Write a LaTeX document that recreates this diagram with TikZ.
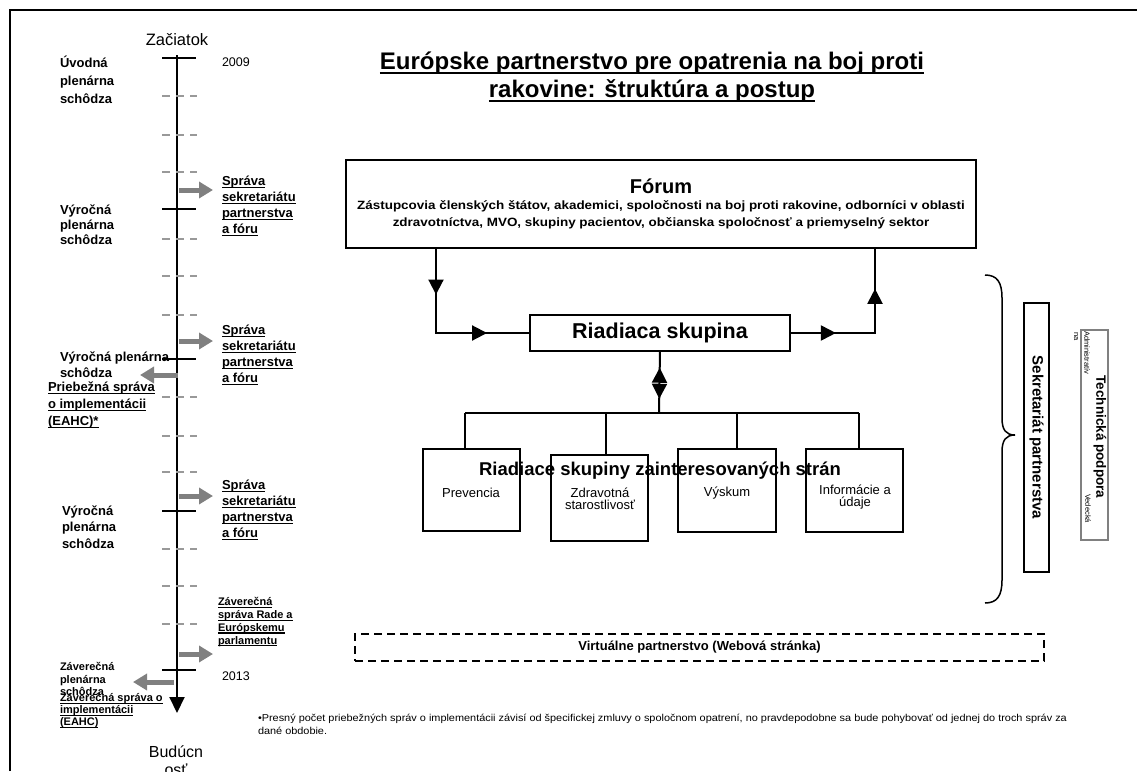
\documentclass[tikz,border=0pt]{standalone}
\usepackage{graphicx}
\usepackage{fontspec}
\setmainfont{Liberation Sans}
\usetikzlibrary{arrows.meta,decorations.markings,calc}
\newcommand\fsz[2]{\fontsize{#1}{#2}\selectfont}
\newcommand\myul[1]{\setbox0\hbox{#1}\rlap{\rule[-0.2em]{\wd0}{0.1em}}\box0}
\newcommand\hstretch[2]{\scalebox{#1}[1]{#2}}
\tikzset{btri/.tip={Triangle[length=15pt,width=15pt]}}
\begin{document}
\begin{tikzpicture}[x=1pt,y=-1pt,
  every node/.style={inner sep=0pt, outer sep=0pt},
  conn/.style={line width=2pt},
  boxst/.style={draw, line width=2pt},
  blab/.style={font=\fsz{13}{16}\bfseries, align=left, anchor=west},
  slab/.style={font=\fsz{11}{12.7}\bfseries, align=left, anchor=west},
  glab/.style={font=\fsz{13}{12.5}, align=center},
  yr/.style={font=\fsz{12.5}{15}, anchor=west},
  tickst/.style={line width=2pt},
  dtick/.style={line width=1.6pt, draw=gray!80, dash pattern=on 8pt off 6pt},
  garrow/.style={draw=gray, line width=5pt, -{Triangle[length=14pt,width=16pt]}}
]
\useasboundingbox (0,0) rectangle (1137,771);
\draw[line width=2.5pt] (10,771) -- (10,10) -- (1137,10);

% title
\node[font=\fsz{24}{28}\bfseries, align=center] (title) at (652,77)
  {\myul{Európske partnerstvo pre opatrenia na boj proti}\\\myul{rakovine: štruktúra a postup}};

% timeline
\node[font=\fsz{16.5}{20}] (start) at (177,40) {Začiatok};
\coordinate (tTop) at (177,55);
\coordinate (tEnd) at (177,713);
\draw[line width=2pt, -{Triangle[length=16pt,width=15pt]}] (tTop) -- (tEnd);
\foreach \y in {58,209,359,511,670} \draw[tickst] (162,\y) -- (196,\y);
\foreach \y in {96,135,172,239,276,315,397,436,472,549,586,624} \draw[dtick] (162,\y) -- (197,\y);
\foreach \y in {190,341,496,654} \draw[garrow] (179,\y) -- (213,\y);
\draw[garrow] (178,375) -- (140,375);
\draw[garrow] (174,682) -- (133,682);

\node[yr] (y2009) at (222,62) {2009};
\node[yr] (y2013) at (222,676) {2013};
\node[font=\fsz{16}{18}, align=center] (buduc) at (176,761) {Budúcn\\osť};

\node[blab, font=\fsz{13}{18}\bfseries] (uvod) at (60,80) {Úvodná\\plenárna\\schôdza};
\node[blab, font=\fsz{13}{15}\bfseries] (vyr1) at (60,225) {Výročná\\plenárna\\schôdza};
\node[blab] (vyr2) at (60,365) {Výročná plenárna\\schôdza};
\node[blab, font=\fsz{13}{16.5}\bfseries] (vyr3) at (62,527) {Výročná\\plenárna\\schôdza};
\node[blab] (spr1) at (222,206) {\myul{Správa}\\\myul{sekretariátu}\\\myul{partnerstva}\\\myul{a fóru}};
\node[blab] (spr2) at (222,355) {\myul{Správa}\\\myul{sekretariátu}\\\myul{partnerstva}\\\myul{a fóru}};
\node[blab] (spr3) at (222,510) {\myul{Správa}\\\myul{sekretariátu}\\\myul{partnerstva}\\\myul{a fóru}};
\node[blab, font=\fsz{13}{17}\bfseries] (prie) at (48,405) {\myul{Priebežná správa}\\\myul{o implementácii}\\\myul{(EAHC)*}};
\node[slab] (zsr) at (218,622) {\myul{Záverečná}\\\myul{správa Rade a}\\\myul{Európskemu}\\\myul{parlamentu}};
\node[slab] (zps) at (60,679) {Záverečná\\plenárna\\schôdza};
\node[slab, font=\fsz{11}{12}\bfseries] (zsi) at (60,711) {\myul{Záverečná správa o}\\\myul{implementácii}\\\myul{(EAHC)}};

% forum
\node[boxst, minimum width=630pt, minimum height=88pt, align=center, font=\fsz{12}{17}\bfseries] (forum) at (661,204)
  {{\fsz{20}{22}\bfseries Fórum}\\[-1pt]
   \hstretch{1.12}{Zástupcovia členských štátov, akademici, spoločnosti na boj proti rakovine, odborníci v oblasti}\\
   \hstretch{1.12}{zdravotníctva, MVO, skupiny pacientov, občianska spoločnosť a priemyselný sektor}};

\node[boxst, minimum width=260pt, minimum height=36pt, font=\fsz{21.5}{24}\bfseries] (rs) at (660,333) {Riadiaca skupina};

\coordinate (cl) at (436,248);
\coordinate (cr) at (875,248);
\draw[conn, postaction={decorate}, decoration={markings,
   mark=at position 0.26 with {\arrow{btri}},
   mark=at position 0.76 with {\arrow{btri}}}]
  (forum.south -| cl) |- (rs.west);
\draw[conn, postaction={decorate}, decoration={markings,
   mark=at position 0.27 with {\arrow{btri}},
   mark=at position 0.76 with {\arrow{btri}}}]
  (rs.east) -| (forum.south -| cr);

% stakeholder groups
\node[boxst, minimum width=97pt, minimum height=82pt] (prev) at (471.5,490) {};
\node[boxst, minimum width=97pt, minimum height=86pt] (zdr) at (599.5,498) {};
\node[boxst, minimum width=98pt, minimum height=83pt] (vys) at (727,490.5) {};
\node[boxst, minimum width=97pt, minimum height=83pt] (info) at (854.5,490.5) {};
\node[glab] (prevt) at (471,493) {Prevencia};
\node[glab] (zdrt) at (600,499) {Zdravotná\\starostlivosť};
\node[glab] (vyst) at (727,493) {Výskum};
\node[glab] (infot) at (855,497) {Informácie a\\údaje};
\node[font=\fsz{18.5}{22}\bfseries] (sgt) at (660,471) {Riadiace skupiny zainteresovaných strán};

\coordinate (bus) at (659,413);
\coordinate (b1) at (465,413);
\coordinate (b2) at (606,413);
\coordinate (b3) at (737,413);
\coordinate (b4) at (859,413);
\draw[conn] (b1) -- (b4);
\draw[conn] (b1) -- (b1 |- prev.north);
\draw[conn] (b2) -- (b2 |- zdr.north);
\draw[conn] (b3) -- (b3 |- vys.north);
\draw[conn] (b4) -- (b4 |- info.north);
\draw[conn, postaction={decorate}, decoration={markings,
   mark=at position 0.27 with {\arrowreversed{btri}},
   mark=at position 0.77 with {\arrow{btri}}}]
  (rs.south) -- (bus);

% secretariat
\draw[line width=1.5pt] (985,275) .. controls (997,275) and (1002,282) .. (1002,298) -- (1002,418)
  .. controls (1002,430) and (1006,435) .. (1015,435)
  .. controls (1006,435) and (1002,440) .. (1002,452) -- (1002,580)
  .. controls (1002,596) and (997,603) .. (985,603);
\node[boxst, rotate=-90, minimum width=269pt, minimum height=25pt, font=\fsz{15}{18}\bfseries] (sek) at (1036.5,437.5) {Sekretariát partnerstva};
\node[draw=gray, line width=2pt, minimum width=27pt, minimum height=210pt] (tech) at (1094.5,435) {};
\node[rotate=-90, font=\fsz{13.5}{16}\bfseries] (techt) at (1100,437) {Technická podpora};
\node[rotate=-90, anchor=west, font=\fsz{7.5}{9}] (adm) at (1087,331) {Administratív};
\node[rotate=-90, anchor=west, font=\fsz{7.5}{9}] (na) at (1076,332) {na};
\node[rotate=-90, anchor=east, font=\fsz{7.5}{9}] (ved) at (1088,523) {Vedecká};

% virtual partnership
\node[draw, line width=2pt, dash pattern=on 8pt off 5pt, minimum width=689pt, minimum height=27pt, font=\fsz{13}{16}\bfseries] (virt) at (699.5,647.5) {Virtuálne partnerstvo (Webová stránka)};

% footnote
\node[anchor=north west, font=\fsz{10}{13}, align=left] (foot) at (258,714)
  {\hstretch{1.09}{•Presný počet priebežných správ o implementácii závisí od špecifickej zmluvy o spoločnom opatrení, no pravdepodobne sa bude pohybovať od jednej do troch správ za}\\\hstretch{1.09}{dané obdobie.}};
\end{tikzpicture}
\end{document}
